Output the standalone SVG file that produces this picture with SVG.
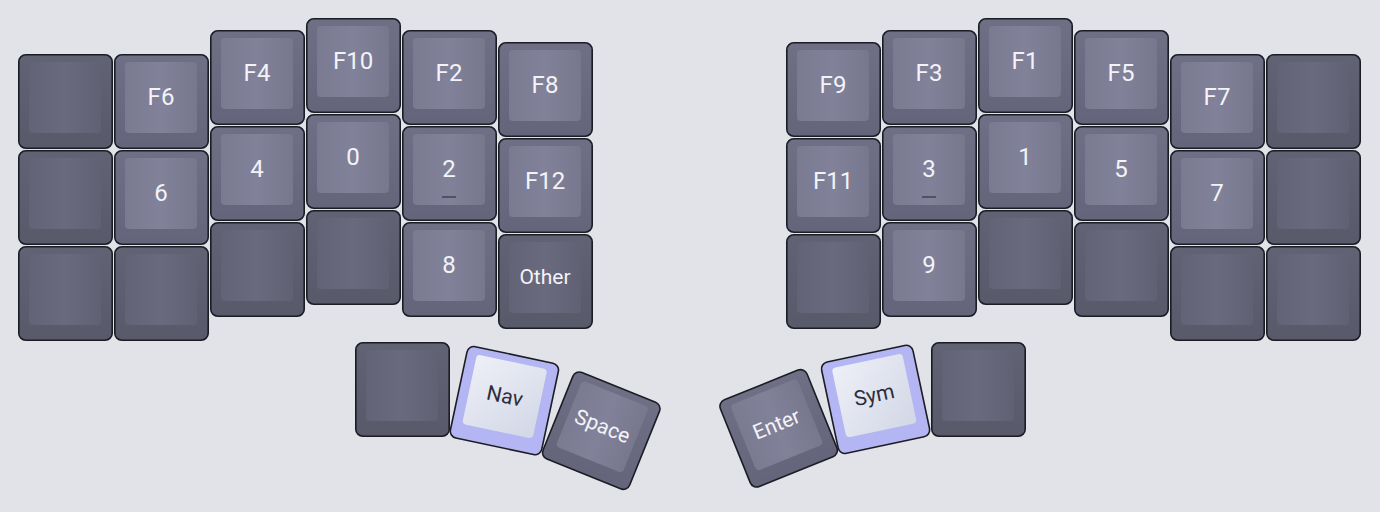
<svg xmlns="http://www.w3.org/2000/svg" width="1380" height="512" viewBox="0 0 1380 512">
<defs>
<linearGradient id="gOut" x1="0" y1="0" x2="0" y2="1"><stop offset="0" stop-color="#6f7085"/><stop offset="1" stop-color="#64657a"/></linearGradient>
<linearGradient id="gIn" x1="0" y1="0" x2="1" y2="0"><stop offset="0" stop-color="#7a7b91"/><stop offset="0.5" stop-color="#81829a"/><stop offset="1" stop-color="#77788e"/></linearGradient>
<linearGradient id="gOutD" x1="0" y1="0" x2="0" y2="1"><stop offset="0" stop-color="#616274"/><stop offset="1" stop-color="#585969"/></linearGradient>
<linearGradient id="gInD" x1="0" y1="0" x2="1" y2="0"><stop offset="0" stop-color="#626376"/><stop offset="0.5" stop-color="#696a7d"/><stop offset="1" stop-color="#606173"/></linearGradient>
<linearGradient id="gInH" x1="0" y1="0" x2="1" y2="1"><stop offset="0" stop-color="#eef0f7"/><stop offset="1" stop-color="#d2d7e6"/></linearGradient>
</defs>
<style>
.ko{fill:url(#gOut);stroke:#1c1c24;stroke-width:1.6}
.ki{fill:url(#gIn)}
.dark .ko{fill:url(#gOutD)}
.dark .ki{fill:url(#gInD)}
.hl .ko{fill:#b3b6f2}
.hl .ki{fill:url(#gInH)}
text{font-family:Roboto,"Liberation Sans",sans-serif;font-weight:400;fill:#f3f3f8;text-anchor:middle}
.lbl{font-size:24px}
.sm{font-size:21px}
.hl text{fill:#2c2d3b}
.dash{stroke:#45465a;stroke-width:1.6}
</style>
<rect width="1380" height="512" fill="#e1e3e9"/>
<g id="connectors"/>
<!-- left half -->
<g id="L00" class="dark" transform="translate(18,54)"><rect class="ko" x="0.8" y="0.8" width="93.4" height="93.4" rx="7"/><rect class="ki" x="11" y="8" width="72" height="71" rx="4"/></g>
<g id="L01" class="dark" transform="translate(18,150)"><rect class="ko" x="0.8" y="0.8" width="93.4" height="93.4" rx="7"/><rect class="ki" x="11" y="8" width="72" height="71" rx="4"/></g>
<g id="L02" class="dark" transform="translate(18,246)"><rect class="ko" x="0.8" y="0.8" width="93.4" height="93.4" rx="7"/><rect class="ki" x="11" y="8" width="72" height="71" rx="4"/></g>
<g id="L10" transform="translate(114,54)"><rect class="ko" x="0.8" y="0.8" width="93.4" height="93.4" rx="7"/><rect class="ki" x="11" y="8" width="72" height="71" rx="4"/><text class="lbl" x="47" y="51">F6</text></g>
<g id="L11" transform="translate(114,150)"><rect class="ko" x="0.8" y="0.8" width="93.4" height="93.4" rx="7"/><rect class="ki" x="11" y="8" width="72" height="71" rx="4"/><text class="lbl" x="47" y="51">6</text></g>
<g id="L12" class="dark" transform="translate(114,246)"><rect class="ko" x="0.8" y="0.8" width="93.4" height="93.4" rx="7"/><rect class="ki" x="11" y="8" width="72" height="71" rx="4"/></g>
<g id="L20" transform="translate(210,30)"><rect class="ko" x="0.8" y="0.8" width="93.4" height="93.4" rx="7"/><rect class="ki" x="11" y="8" width="72" height="71" rx="4"/><text class="lbl" x="47" y="51">F4</text></g>
<g id="L21" transform="translate(210,126)"><rect class="ko" x="0.8" y="0.8" width="93.4" height="93.4" rx="7"/><rect class="ki" x="11" y="8" width="72" height="71" rx="4"/><text class="lbl" x="47" y="51">4</text></g>
<g id="L22" class="dark" transform="translate(210,222)"><rect class="ko" x="0.8" y="0.8" width="93.4" height="93.4" rx="7"/><rect class="ki" x="11" y="8" width="72" height="71" rx="4"/></g>
<g id="L30" transform="translate(306,18)"><rect class="ko" x="0.8" y="0.8" width="93.4" height="93.4" rx="7"/><rect class="ki" x="11" y="8" width="72" height="71" rx="4"/><text class="lbl" x="47" y="51">F10</text></g>
<g id="L31" transform="translate(306,114)"><rect class="ko" x="0.8" y="0.8" width="93.4" height="93.4" rx="7"/><rect class="ki" x="11" y="8" width="72" height="71" rx="4"/><text class="lbl" x="47" y="51">0</text></g>
<g id="L32" class="dark" transform="translate(306,210)"><rect class="ko" x="0.8" y="0.8" width="93.4" height="93.4" rx="7"/><rect class="ki" x="11" y="8" width="72" height="71" rx="4"/></g>
<g id="L40" transform="translate(402,30)"><rect class="ko" x="0.8" y="0.8" width="93.4" height="93.4" rx="7"/><rect class="ki" x="11" y="8" width="72" height="71" rx="4"/><text class="lbl" x="47" y="51">F2</text></g>
<g id="L41" transform="translate(402,126)"><rect class="ko" x="0.8" y="0.8" width="93.4" height="93.4" rx="7"/><rect class="ki" x="11" y="8" width="72" height="71" rx="4"/><text class="lbl" x="47" y="51">2</text><line class="dash" x1="40" y1="71" x2="54" y2="71"/></g>
<g id="L42" transform="translate(402,222)"><rect class="ko" x="0.8" y="0.8" width="93.4" height="93.4" rx="7"/><rect class="ki" x="11" y="8" width="72" height="71" rx="4"/><text class="lbl" x="47" y="51">8</text></g>
<g id="L50" transform="translate(498,42)"><rect class="ko" x="0.8" y="0.8" width="93.4" height="93.4" rx="7"/><rect class="ki" x="11" y="8" width="72" height="71" rx="4"/><text class="lbl" x="47" y="51">F8</text></g>
<g id="L51" transform="translate(498,138)"><rect class="ko" x="0.8" y="0.8" width="93.4" height="93.4" rx="7"/><rect class="ki" x="11" y="8" width="72" height="71" rx="4"/><text class="lbl" x="47" y="51">F12</text></g>
<g id="L52" class="dark" transform="translate(498,234)"><rect class="ko" x="0.8" y="0.8" width="93.4" height="93.4" rx="7"/><rect class="ki" x="11" y="8" width="72" height="71" rx="4"/><text class="sm" x="47" y="50">Other</text></g>
<!-- right half -->
<g id="R00" transform="translate(786,42)"><rect class="ko" x="0.8" y="0.8" width="93.4" height="93.4" rx="7"/><rect class="ki" x="11" y="8" width="72" height="71" rx="4"/><text class="lbl" x="47" y="51">F9</text></g>
<g id="R01" transform="translate(786,138)"><rect class="ko" x="0.8" y="0.8" width="93.4" height="93.4" rx="7"/><rect class="ki" x="11" y="8" width="72" height="71" rx="4"/><text class="lbl" x="47" y="51">F11</text></g>
<g id="R02" class="dark" transform="translate(786,234)"><rect class="ko" x="0.8" y="0.8" width="93.4" height="93.4" rx="7"/><rect class="ki" x="11" y="8" width="72" height="71" rx="4"/></g>
<g id="R10" transform="translate(882,30)"><rect class="ko" x="0.8" y="0.8" width="93.4" height="93.4" rx="7"/><rect class="ki" x="11" y="8" width="72" height="71" rx="4"/><text class="lbl" x="47" y="51">F3</text></g>
<g id="R11" transform="translate(882,126)"><rect class="ko" x="0.8" y="0.8" width="93.4" height="93.4" rx="7"/><rect class="ki" x="11" y="8" width="72" height="71" rx="4"/><text class="lbl" x="47" y="51">3</text><line class="dash" x1="40" y1="71" x2="54" y2="71"/></g>
<g id="R12" transform="translate(882,222)"><rect class="ko" x="0.8" y="0.8" width="93.4" height="93.4" rx="7"/><rect class="ki" x="11" y="8" width="72" height="71" rx="4"/><text class="lbl" x="47" y="51">9</text></g>
<g id="R20" transform="translate(978,18)"><rect class="ko" x="0.8" y="0.8" width="93.4" height="93.4" rx="7"/><rect class="ki" x="11" y="8" width="72" height="71" rx="4"/><text class="lbl" x="47" y="51">F1</text></g>
<g id="R21" transform="translate(978,114)"><rect class="ko" x="0.8" y="0.8" width="93.4" height="93.4" rx="7"/><rect class="ki" x="11" y="8" width="72" height="71" rx="4"/><text class="lbl" x="47" y="51">1</text></g>
<g id="R22" class="dark" transform="translate(978,210)"><rect class="ko" x="0.8" y="0.8" width="93.4" height="93.4" rx="7"/><rect class="ki" x="11" y="8" width="72" height="71" rx="4"/></g>
<g id="R30" transform="translate(1074,30)"><rect class="ko" x="0.8" y="0.8" width="93.4" height="93.4" rx="7"/><rect class="ki" x="11" y="8" width="72" height="71" rx="4"/><text class="lbl" x="47" y="51">F5</text></g>
<g id="R31" transform="translate(1074,126)"><rect class="ko" x="0.8" y="0.8" width="93.4" height="93.4" rx="7"/><rect class="ki" x="11" y="8" width="72" height="71" rx="4"/><text class="lbl" x="47" y="51">5</text></g>
<g id="R32" class="dark" transform="translate(1074,222)"><rect class="ko" x="0.8" y="0.8" width="93.4" height="93.4" rx="7"/><rect class="ki" x="11" y="8" width="72" height="71" rx="4"/></g>
<g id="R40" transform="translate(1170,54)"><rect class="ko" x="0.8" y="0.8" width="93.4" height="93.4" rx="7"/><rect class="ki" x="11" y="8" width="72" height="71" rx="4"/><text class="lbl" x="47" y="51">F7</text></g>
<g id="R41" transform="translate(1170,150)"><rect class="ko" x="0.8" y="0.8" width="93.4" height="93.4" rx="7"/><rect class="ki" x="11" y="8" width="72" height="71" rx="4"/><text class="lbl" x="47" y="51">7</text></g>
<g id="R42" class="dark" transform="translate(1170,246)"><rect class="ko" x="0.8" y="0.8" width="93.4" height="93.4" rx="7"/><rect class="ki" x="11" y="8" width="72" height="71" rx="4"/></g>
<g id="R50" class="dark" transform="translate(1266,54)"><rect class="ko" x="0.8" y="0.8" width="93.4" height="93.4" rx="7"/><rect class="ki" x="11" y="8" width="72" height="71" rx="4"/></g>
<g id="R51" class="dark" transform="translate(1266,150)"><rect class="ko" x="0.8" y="0.8" width="93.4" height="93.4" rx="7"/><rect class="ki" x="11" y="8" width="72" height="71" rx="4"/></g>
<g id="R52" class="dark" transform="translate(1266,246)"><rect class="ko" x="0.8" y="0.8" width="93.4" height="93.4" rx="7"/><rect class="ki" x="11" y="8" width="72" height="71" rx="4"/></g>
<!-- thumbs -->
<g id="LT0" class="dark" transform="translate(355,342)"><rect class="ko" x="0.8" y="0.8" width="93.4" height="93.4" rx="7"/><rect class="ki" x="11" y="8" width="72" height="71" rx="4"/></g>
<g id="LT1" class="hl" transform="translate(504,400) rotate(12) translate(-47,-47)"><rect class="ko" x="0.8" y="0.8" width="93.4" height="93.4" rx="7"/><rect class="ki" x="11" y="8" width="72" height="71" rx="4"/><text class="sm" x="47" y="50">Nav</text></g>
<g id="LT2" transform="translate(601,430) rotate(22) translate(-47,-47)"><rect class="ko" x="0.8" y="0.8" width="93.4" height="93.4" rx="7"/><rect class="ki" x="11" y="8" width="72" height="71" rx="4"/><text class="sm" x="47" y="50">Space</text></g>
<g id="RT0" transform="translate(778,428) rotate(-22) translate(-47,-47)"><rect class="ko" x="0.8" y="0.8" width="93.4" height="93.4" rx="7"/><rect class="ki" x="11" y="8" width="72" height="71" rx="4"/><text class="sm" x="47" y="50">Enter</text></g>
<g id="RT1" class="hl" transform="translate(875,399) rotate(-12) translate(-47,-47)"><rect class="ko" x="0.8" y="0.8" width="93.4" height="93.4" rx="7"/><rect class="ki" x="11" y="8" width="72" height="71" rx="4"/><text class="sm" x="47" y="50">Sym</text></g>
<g id="RT2" class="dark" transform="translate(931,342)"><rect class="ko" x="0.8" y="0.8" width="93.4" height="93.4" rx="7"/><rect class="ki" x="11" y="8" width="72" height="71" rx="4"/></g>
</svg>
